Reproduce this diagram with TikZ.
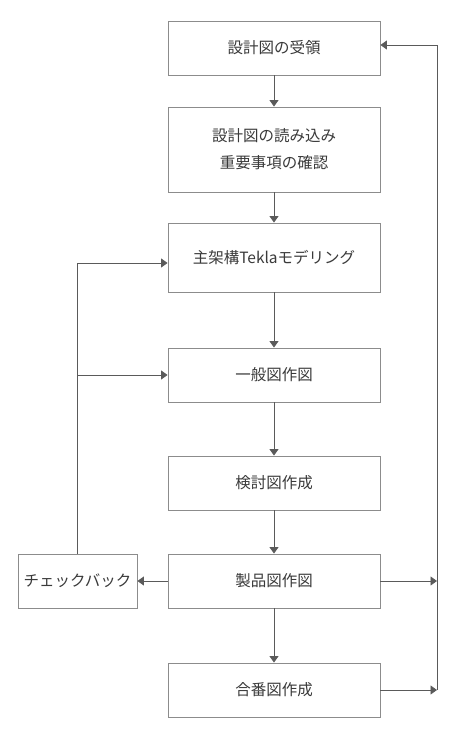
\documentclass[tikz,border=0pt]{standalone}
\usepackage{fontspec}
\setmainfont{Noto Sans CJK JP}
\usetikzlibrary{arrows.meta}
\definecolor{boxc}{HTML}{8C8C8C}
\definecolor{linec}{HTML}{5A5A5A}
\definecolor{txtc}{HTML}{3A3A3A}
\tikzset{
  box/.style={draw=boxc, line width=0.9bp, fill=white, text=txtc, font=\fontsize{15.5bp}{27bp}\selectfont, align=center, inner sep=0pt},
  mainbox/.style={box, minimum width=212bp},
  arr/.style={draw=linec, line width=0.9bp, -{Triangle[length=6.5bp,width=9bp]}},
  ln/.style={draw=linec, line width=0.9bp}
}
\begin{document}
\begin{tikzpicture}[x=1bp,y=-1bp]
\useasboundingbox[fill=white] (0,0) rectangle (464,756);
\node[mainbox, minimum height=54bp] (b1) at (274,48) {設計図の受領};
\node[mainbox, minimum height=85bp] (b2) at (274,149.5) {設計図の読み込み\\重要事項の確認};
\node[mainbox, minimum height=69bp] (b3) at (274,257.5) {主架構Teklaモデリング};
\node[mainbox, minimum height=54bp] (b4) at (274,375) {一般図作図};
\node[mainbox, minimum height=54bp] (b5) at (274,483) {検討図作成};
\node[mainbox, minimum height=54bp] (b6) at (274,581) {製品図作図};
\node[mainbox, minimum height=54bp] (b7) at (274,690) {合番図作成};
\node[box, minimum width=119bp, minimum height=54bp] (chk) at (77.5,581) {チェックバック};
\coordinate (R) at (437,0);
\draw[arr] (b1) -- (b2);
\draw[arr] (b2) -- (b3);
\draw[arr] (b3) -- (b4);
\draw[arr] (b4) -- (b5);
\draw[arr] (b5) -- (b6);
\draw[arr] (b6) -- (b7);
\draw[arr] (b6.west) -- (chk.east);
\draw[arr] (chk.north) |- ([yshift=-5.5bp]b3.west);
\draw[arr] (chk.north) |- (b4.west);
\draw[arr] (b6.east) -- (b6.east -| R);
\draw[arr] (b7.east) -- (b7.east -| R);
\draw[arr] (b7.east -| R) |- ([yshift=3bp]b1.east);
\end{tikzpicture}
\end{document}
